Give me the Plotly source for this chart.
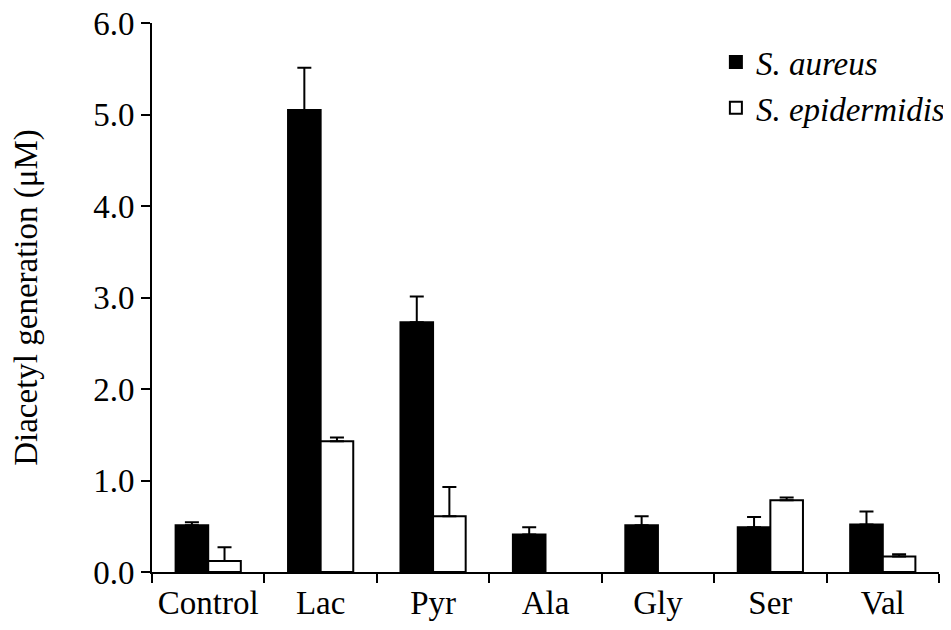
import plotly.graph_objects as go

categories = ["Control", "Lac", "Pyr", "Ala", "Gly", "Ser", "Val"]
aureus = [0.51, 5.05, 2.73, 0.41, 0.51, 0.49, 0.52]
aureus_err = [0.035, 0.46, 0.28, 0.08, 0.10, 0.11, 0.14]
epidermidis = [0.12, 1.43, 0.61, None, None, 0.785, 0.17]
epidermidis_err = [0.15, 0.04, 0.32, 0, 0, 0.03, 0.025]
y_ticks = [0, 1, 2, 3, 4, 5, 6]

FONT = "Liberation Serif"
FS = 33

fig = go.Figure()
fig.add_trace(go.Bar(
    x=categories, y=aureus, name="<i>S. aureus</i>",
    marker=dict(color="black", line=dict(color="black", width=2)),
    error_y=dict(type="data", symmetric=False, array=aureus_err,
                 arrayminus=[0] * len(aureus), color="black", thickness=2, width=7),
))
fig.add_trace(go.Bar(
    x=categories, y=epidermidis, name="<i>S. epidermidis</i>",
    marker=dict(color="white", line=dict(color="black", width=2)),
    error_y=dict(type="data", symmetric=False, array=epidermidis_err,
                 arrayminus=[0] * len(epidermidis), color="black", thickness=2, width=7),
))

fig.update_layout(
    width=951, height=630,
    margin=dict(l=144, r=20, t=15, b=66, autoexpand=False),
    paper_bgcolor="white", plot_bgcolor="white",
    barmode="group", bargap=0.42, bargroupgap=0,
    font=dict(family=FONT, size=FS, color="black"),
    showlegend=True,
    legend=dict(x=0.7165, y=0.98, xanchor="left", yanchor="top",
                font=dict(family=FONT, size=FS), bgcolor="rgba(0,0,0,0)",
                tracegroupgap=0, itemwidth=30),
    xaxis=dict(showline=True, linecolor="black", linewidth=2, automargin=False,
               ticks="outside", tickson="boundaries", ticklen=9, tickwidth=2,
               tickcolor="black", showgrid=False, zeroline=False,
               ticklabeloverflow="allow",
               tickfont=dict(family=FONT, size=FS)),
    yaxis=dict(range=[0, 6], tickvals=y_ticks, tickformat=".1f", automargin=False,
               showline=True, linecolor="black", linewidth=2,
               ticks="outside", ticklen=9, tickwidth=2, tickcolor="black",
               showgrid=False, zeroline=False, ticklabeloverflow="allow",
               tickfont=dict(family=FONT, size=FS),
               title=dict(text="Diacetyl generation (μM)", standoff=47,
                          font=dict(family=FONT, size=FS))),
)

fig.write_html("out.html")
